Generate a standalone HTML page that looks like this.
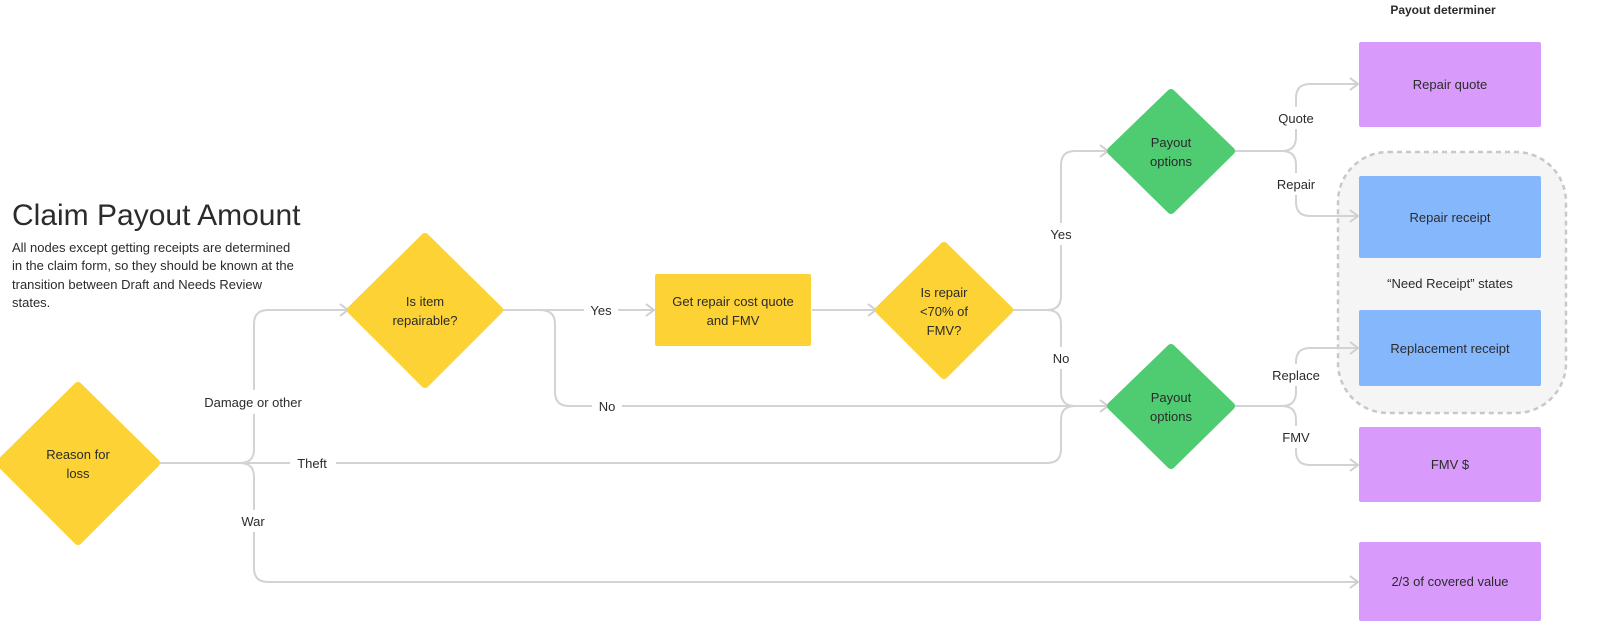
<!DOCTYPE html>
<html><head><meta charset="utf-8"><style>
html,body{margin:0;padding:0;background:#fff;}
svg text{font-family:"Liberation Sans",sans-serif;fill:#2b2b2b;}
</style></head><body>
<svg width="1600" height="634" viewBox="0 0 1600 634" xmlns="http://www.w3.org/2000/svg">
<defs>
<marker id="a" markerWidth="12" markerHeight="14" refX="10" refY="7" orient="auto" markerUnits="userSpaceOnUse">
<path d="M2,1 L10,7 L2,13" fill="none" stroke="#cfcfcf" stroke-width="2"/>
</marker>
</defs>
<!-- group -->
<rect x="1338" y="152" width="228" height="261" rx="50" fill="#f5f5f5" stroke="#c8c8c8" stroke-width="2.5" stroke-dasharray="5,4"/>
<g fill="none" stroke="#d3d3d3" stroke-width="2">
<!-- reason outgoing -->
<path d="M158,463 H1047 Q1061,463 1061,449 V420 Q1061,406 1075,406 H1108" marker-end="url(#a)"/>
<path d="M240,463 Q254,463 254,449 V324 Q254,310 268,310 H348" marker-end="url(#a)"/>
<path d="M240,463 Q254,463 254,477 V568 Q254,582 268,582 H1358" marker-end="url(#a)"/>
<!-- is item -->
<path d="M502,310 H654" marker-end="url(#a)"/>
<path d="M540,310 Q555,310 555,324 V392 Q555,406 569,406 H1075"/>
<path d="M812,310 H876" marker-end="url(#a)"/>
<!-- is repair -->
<path d="M1012,310 H1047 Q1061,310 1061,296 V165 Q1061,151 1075,151 H1108" marker-end="url(#a)"/>
<path d="M1047,310 Q1061,310 1061,324 V392 Q1061,406 1075,406"/>
<!-- payout top -->
<path d="M1234,151 H1282 Q1296,151 1296,137 V98 Q1296,84 1310,84 H1358" marker-end="url(#a)"/>
<path d="M1282,151 Q1296,151 1296,165 V202 Q1296,216 1310,216 H1358" marker-end="url(#a)"/>
<!-- payout bottom -->
<path d="M1234,406 H1282 Q1296,406 1296,392 V362 Q1296,348 1310,348 H1358" marker-end="url(#a)"/>
<path d="M1282,406 Q1296,406 1296,420 V451 Q1296,465 1310,465 H1358" marker-end="url(#a)"/>
</g>
<!-- label backgrounds -->
<g fill="#fff">
<rect x="200" y="390" width="108" height="24"/><rect x="290" y="452" width="46" height="22"/><rect x="236" y="510" width="36" height="22"/>
<rect x="584" y="299" width="34" height="22"/><rect x="592" y="395" width="30" height="22"/>
<rect x="1044" y="223" width="34" height="22"/><rect x="1046" y="347" width="30" height="22"/>
<rect x="1274" y="107" width="44" height="22"/><rect x="1272" y="173" width="46" height="22"/>
<rect x="1268" y="364" width="56" height="22"/><rect x="1278" y="426" width="34" height="22"/>
</g>
<g font-size="13" text-anchor="middle">
<text x="253" y="407">Damage or other</text><text x="312" y="468">Theft</text><text x="253" y="526">War</text>
<text x="601" y="315">Yes</text><text x="607" y="411">No</text>
<text x="1061" y="239">Yes</text><text x="1061" y="363">No</text>
<text x="1296" y="123">Quote</text><text x="1296" y="189">Repair</text>
<text x="1296" y="380">Replace</text><text x="1296" y="442">FMV</text>
</g>
<!-- diamonds -->
<g stroke-linejoin="round">
<path d="M78,386 L156,463 L78,541 L0,463 Z" fill="#FDD235" stroke="#FDD235" stroke-width="8"/>
<path d="M425,237 L499,310 L425,384 L351,310 Z" fill="#FDD235" stroke="#FDD235" stroke-width="8"/>
<path d="M944,246 L1009,310 L944,375 L879,310 Z" fill="#FDD235" stroke="#FDD235" stroke-width="8"/>
<path d="M1171,93 L1231,151 L1171,210 L1111,151 Z" fill="#4FCB71" stroke="#4FCB71" stroke-width="8"/>
<path d="M1171,348 L1231,406 L1171,465 L1111,406 Z" fill="#4FCB71" stroke="#4FCB71" stroke-width="8"/>
</g>
<rect x="655" y="274" width="156" height="72" rx="2" fill="#FDD235"/>
<rect x="1359" y="42" width="182" height="85" rx="2" fill="#D99BFB"/>
<rect x="1359" y="427" width="182" height="75" rx="2" fill="#D99BFB"/>
<rect x="1359" y="542" width="182" height="79" rx="2" fill="#D99BFB"/>
<rect x="1359" y="176" width="182" height="82" rx="2" fill="#85B7FD"/>
<rect x="1359" y="310" width="182" height="76" rx="2" fill="#85B7FD"/>
<g font-size="13" text-anchor="middle">
<text x="78" y="459">Reason for</text><text x="78" y="478">loss</text>
<text x="425" y="306">Is item</text><text x="425" y="325">repairable?</text>
<text x="733" y="306">Get repair cost quote</text><text x="733" y="325">and FMV</text>
<text x="944" y="297">Is repair</text><text x="944" y="316">&lt;70% of</text><text x="944" y="335">FMV?</text>
<text x="1171" y="147">Payout</text><text x="1171" y="166">options</text>
<text x="1171" y="402">Payout</text><text x="1171" y="421">options</text>
<text x="1450" y="89">Repair quote</text>
<text x="1450" y="222">Repair receipt</text>
<text x="1450" y="288">“Need Receipt” states</text>
<text x="1450" y="353">Replacement receipt</text>
<text x="1450" y="469">FMV $</text>
<text x="1450" y="586">2/3 of covered value</text>
<text x="1443" y="14" font-weight="bold" font-size="12">Payout determiner</text>
</g>
<text x="12" y="225" font-size="30">Claim Payout Amount</text>
<g font-size="13">
<text x="12" y="252">All nodes except getting receipts are determined</text>
<text x="12" y="270">in the claim form, so they should be known at the</text>
<text x="12" y="289">transition between Draft and Needs Review</text>
<text x="12" y="307">states.</text>
</g>
</svg>
</body></html>
